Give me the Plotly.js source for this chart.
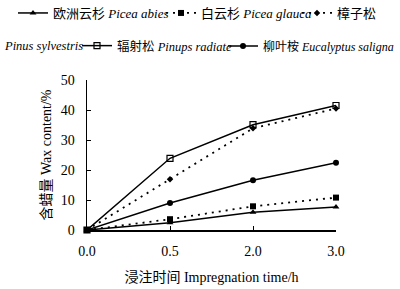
<!DOCTYPE html>
<html><head><meta charset="utf-8">
<script src="https://cdn.plot.ly/plotly-3.0.1.min.js"></script>
<style>html,body{margin:0;padding:0;background:#fff}#c{width:400px;height:289px}</style>
</head><body><div id="c"></div>
<script>
const times = ['0.0','0.5','2.0','3.0'];
const piceaAbies = [0, 2.4, 5.9, 7.7];
const piceaGlauca = [0, 3.6, 7.9, 10.8];
const pinusSylvestris = [0, 16.9, 33.9, 40.5];
const pinusRadiata = [0, 23.9, 35.1, 41.5];
const eucalyptus = [0, 9.0, 16.6, 22.4];
const names = ['欧洲云杉 <i>Picea abies</i>', '白云杉 <i>Picea glauca</i>', '樟子松', '辐射松 <i>Pinups radiate</i>', '柳叶桉 <i>Eucalyptus saligna</i>'];
const wrapName = '<i>Pinus sylvestris</i>';

const F = 'Liberation Serif, Times New Roman, Noto Sans CJK SC, serif';
const base = {type:'scatter', mode:'lines+markers', x: times, cliponaxis:false};
const traces = [
  Object.assign({}, base, {y: piceaAbies, name: names[0], legend:'legend',
    line:{color:'#000', width:1.5, dash:'solid'}, marker:{symbol:'triangle-up', size:6, color:'#000'}}),
  Object.assign({}, base, {y: piceaGlauca, name: names[1], legend:'legend2',
    line:{color:'#000', width:1.8, dash:'2px,5px'}, marker:{symbol:'square', size:6, color:'#000'}}),
  Object.assign({}, base, {y: pinusSylvestris, name: names[2], legend:'legend3',
    line:{color:'#000', width:1.8, dash:'2px,5px'}, marker:{symbol:'diamond', size:5, color:'#000'}}),
  Object.assign({}, base, {y: pinusRadiata, name: names[3], legend:'legend4',
    line:{color:'#000', width:1.5}, marker:{symbol:'square-open', size:6, color:'#000', line:{width:1.2}}}),
  Object.assign({}, base, {y: eucalyptus, name: names[4], legend:'legend5',
    line:{color:'#000', width:1.5}, marker:{symbol:'circle', size:6, color:'#000'}})
];

function leg(px, py, fs) {
  return {orientation:'h', xref:'container', yref:'container', x: px/400, y: 1 - py/289,
    xanchor:'left', yanchor:'middle', font:{family:F, size:fs, color:'#000'},
    bgcolor:'rgba(0,0,0,0)', borderwidth:0, itemwidth:30};
}

const layout = {
  width:400, height:289,
  margin:{l:87, r:64, t:80, b:59},
  paper_bgcolor:'#fff', plot_bgcolor:'#fff',
  font:{family:F, size:14, color:'#000'},
  showlegend:true,
  legend: leg(13, 13, 13),
  legend2: leg(161, 13, 13),
  legend3: leg(297, 13, 13),
  legend4: leg(77, 46, 12.5),
  legend5: leg(223, 46, 12),
  xaxis:{type:'category', categoryarray: times, range:[0,3], showline:true, linecolor:'#000', linewidth:1.5,
    ticks:'inside', ticklen:4, tickcolor:'#000', showgrid:false, zeroline:false,
    tickfont:{family:F, size:14}, ticklabelstandoff:8,
    title:{text:'浸注时间 Impregnation time/h', font:{family:F, size:14}, standoff:14}},
  yaxis:{range:[0,50], dtick:10, showline:true, linecolor:'#000', linewidth:1.5,
    ticks:'inside', ticklen:4, tickcolor:'#000', showgrid:false, zeroline:false,
    tickfont:{family:F, size:14}, ticklabelstandoff:8,
    title:{text:'含蜡量 Wax content/%', font:{family:F, size:14}, standoff:6}},
  annotations:[{text: wrapName, xref:'paper', yref:'paper', x:(2-87)/249, y:(230-46)/150, showarrow:false,
    xanchor:'left', yanchor:'middle', font:{family:F, size:12.5, color:'#000'}}]
};
Plotly.newPlot('c', traces, layout, {staticPlot:true, displayModeBar:false});
</script></body></html>
